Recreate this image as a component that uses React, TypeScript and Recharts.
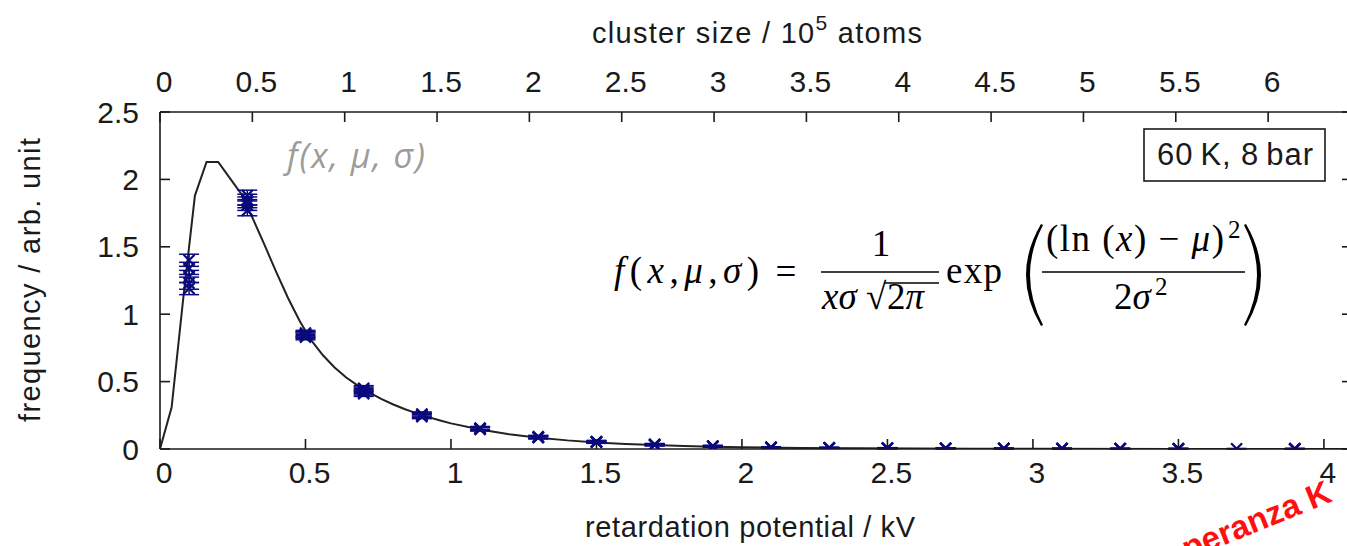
import React from 'react';
import { ComposedChart, Line, Scatter, ErrorBar, XAxis, YAxis } from 'recharts';

// retardation potential (kV) of each measured point
const potentials = [0.1, 0.3, 0.5, 0.7, 0.9, 1.1, 1.3, 1.5, 1.7, 1.9, 2.1, 2.3, 2.5, 2.7, 2.9, 3.1, 3.3, 3.5, 3.7, 3.9];

// repeated measurements (frequency / arb. unit), null = no point
const run1 = [1.4, 1.88, 0.86, 0.45, 0.26, 0.155, 0.09, 0.056, 0.035, 0.022, 0.013, 0.009, 0.007, 0.005, 0.004, 0.003, 0.003, 0.002, 0.002, 0.002];
const run2 = [1.28, 1.85, 0.85, 0.43, 0.25, 0.15, 0.086, 0.052, 0.032, 0.02, 0.011, 0.008, 0.006, 0.005, 0.004, 0.003, 0.002, 0.002, null, 0.001];
const run3 = [1.23, 1.81, 0.84, 0.41, 0.24, 0.145, 0.085, 0.05, 0.03, 0.018, 0.01, 0.008, 0.006, 0.004, 0.003, 0.003, 0.002, 0.002, null, 0.001];
const run4 = [1.19, 1.77, 0.83, 0.42, 0.25, 0.15, 0.09, 0.052, 0.03, 0.02, 0.012, 0.008, 0.006, 0.004, 0.003, 0.002, 0.002, 0.001, null, 0.001];
const run5 = [1.34, 1.83, 0.85, 0.44, null, null, null, null, null, null, null, null, null, null, null, null, null, null, null, null];
const errorSize = [0.045, 0.04, 0.02, 0.02, 0.015, 0.012, 0.01, 0.008, 0.006, 0.005, 0.004, 0.003, 0.003, 0.002, 0.002, 0.002, 0.002, 0.002, 0.002, 0.002];

// log-normal fit curve
const fitPotential = [0, 0.04, 0.08, 0.12, 0.16, 0.2, 0.24, 0.28, 0.32, 0.36, 0.4, 0.44, 0.48, 0.52, 0.56, 0.6, 0.64, 0.68, 0.72, 0.76, 0.8, 0.84, 0.88, 0.92, 0.96, 1.0, 1.1, 1.2, 1.3, 1.4, 1.5, 1.6, 1.7, 1.8, 1.9, 2.0, 2.2, 2.4, 2.6, 2.8, 3.0, 3.5, 4.0, 4.1];
const fitFrequency = [0, 0.31, 1.12, 1.88, 2.13, 2.13, 2.01, 1.89, 1.705, 1.51, 1.31, 1.12, 0.95, 0.805, 0.695, 0.605, 0.53, 0.47, 0.418, 0.372, 0.332, 0.297, 0.266, 0.238, 0.213, 0.19, 0.145, 0.11, 0.084, 0.064, 0.049, 0.038, 0.029, 0.022, 0.017, 0.013, 0.008, 0.005, 0.003, 0.002, 0.0015, 0.0006, 0.0003, 0.0002];

const kvTicks = [0, 0.5, 1, 1.5, 2, 2.5, 3, 3.5, 4];
const clusterTicks = [0, 0.5, 1, 1.5, 2, 2.5, 3, 3.5, 4, 4.5, 5, 5.5, 6];
const freqTicks = [0, 0.5, 1, 1.5, 2, 2.5];

// top axis: cluster size (10^5 atoms) per kV of retardation potential
const CLUSTER_PER_KV = 1.5755;

const NAVY = '#0a0a7d';
const INK = '#1a1a1a';
const SANS = '"Liberation Sans", Arial, Helvetica, sans-serif';
const SERIF = '"Liberation Serif", "Times New Roman", serif';

const runs = [run1, run2, run3, run4, run5];

const toPoints = (values: (number | null)[]) =>
  potentials
    .map((x, i) => ({ x, y: values[i], err: errorSize[i] }))
    .filter((p) => p.y !== null);

const fitData = fitPotential.map((x, i) => ({ x, y: fitFrequency[i] }));

const Cross = (props: any) => {
  const { cx, cy } = props;
  if (cx == null || cy == null) return null;
  const s = 5.5;
  return (
    <path
      d={`M${cx - s},${cy - s}L${cx + s},${cy + s}M${cx - s},${cy + s}L${cx + s},${cy - s}`}
      stroke={NAVY}
      strokeWidth={2.2}
      fill="none"
    />
  );
};

const NoLabel = () => <g />;

const tickText = { fontSize: 30, fill: INK, fontFamily: SANS };
const axisStyle = { stroke: INK, strokeWidth: 1.6 };

function Annotations() {
  return (
    <svg
      width={1347}
      height={546}
      style={{ position: 'absolute', left: 0, top: 0, pointerEvents: 'none' }}
    >
      {/* axis titles */}
      <text x={757} y={43} textAnchor="middle" fontFamily={SANS} fontSize={29} fill={INK} textLength={330}>
        cluster size / 10
        <tspan dy={-13} fontSize={21}>5</tspan>
        <tspan dy={13}> atoms</tspan>
      </text>
      <text x={750} y={537} textAnchor="middle" fontFamily={SANS} fontSize={29} fill={INK} textLength={330}>
        retardation potential / kV
      </text>
      <text
        transform="translate(40,280) rotate(-90)"
        textAnchor="middle"
        fontFamily={SANS}
        fontSize={29}
        fill={INK}
        textLength={284}
      >
        frequency / arb. unit
      </text>

      {/* grey curve label */}
      <text x={287} y={168} fontFamily='"Open Sans", sans-serif' fontStyle="italic" fontSize={34} fill="#9c9c9c" textLength={138}>
        f(x, μ, σ)
      </text>

      {/* condition box */}
      <rect x={1144} y={129} width={181} height={52} fill="#fff" stroke={INK} strokeWidth={1.6} />
      <text x={1235} y={165} textAnchor="middle" fontFamily={SANS} fontSize={31} fill={INK} textLength={156}>
        60{'\u2009'}K, 8{'\u2009'}bar
      </text>

      {/* formula */}
      <g fontFamily={SERIF} fill="#000">
        <text x={614} y={283} fontSize={37} textLength={145}>
          <tspan fontStyle="italic">f</tspan>(<tspan fontStyle="italic">x</tspan>,<tspan fontStyle="italic">μ</tspan>,<tspan fontStyle="italic">σ</tspan>)
        </text>
        <text x={786} y={284} fontSize={37} textAnchor="middle">=</text>
        <text x={881} y={256} fontSize={37} textAnchor="middle">1</text>
        <line x1={821} x2={939} y1={272} y2={272} stroke="#000" strokeWidth={1.5} />
        <text x={822} y={309} fontSize={37}>
          <tspan fontStyle="italic">xσ</tspan>
        </text>
        <text x={866} y={309} fontSize={37}>√</text>
        <line x1={885} x2={939} y1={283} y2={283} stroke="#000" strokeWidth={1.5} />
        <text x={887} y={309} fontSize={37}>
          2<tspan fontStyle="italic">π</tspan>
        </text>
        <text x={946} y={283} fontSize={37} textLength={56}>exp</text>
        <path d="M1041,224 Q1011,275 1041,326 L1043,325 Q1017,275 1043,225 Z" fill="#000" />
        <text x={1046} y={251} fontSize={37} textLength={178}>
          (ln (<tspan fontStyle="italic">x</tspan>) − <tspan fontStyle="italic">μ</tspan>)
        </text>
        <text x={1228} y={238} fontSize={25}>2</text>
        <line x1={1042} x2={1245} y1={272} y2={272} stroke="#000" strokeWidth={1.5} />
        <text x={1114} y={309} fontSize={37}>
          2<tspan fontStyle="italic">σ</tspan>
        </text>
        <text x={1155} y={295} fontSize={25}>2</text>
        <path d="M1246,224 Q1276,275 1246,326 L1244,325 Q1270,275 1244,225 Z" fill="#000" />
      </g>

      {/* watermark */}
      <text
        transform="translate(1150,575) rotate(-22)"
        fontFamily={SANS}
        fontWeight="bold"
        fontSize={33}
        fill="#ff1010"
      >
        Esperanza K
      </text>
    </svg>
  );
}

export default function App() {
  return (
    <div
      style={{
        position: 'absolute',
        left: 0,
        top: 0,
        width: 1347,
        height: 546,
        overflow: 'hidden',
        background: '#fff',
      }}
    >
      <ComposedChart width={1400} height={546} margin={{ top: 52, right: 27, bottom: 37, left: 60 }}>
        <XAxis
          xAxisId="kv"
          dataKey="x"
          type="number"
          orientation="bottom"
          domain={[0, 4.1]}
          allowDataOverflow
          ticks={kvTicks}
          interval={0}
          height={60}
          tickSize={-10}
          tickMargin={23}
          axisLine={axisStyle}
          tickLine={axisStyle}
          tick={{ ...tickText, dx: 4 }}
        />
        <XAxis
          xAxisId="top"
          dataKey="x"
          type="number"
          orientation="top"
          domain={[0, 4.1]}
          allowDataOverflow
          ticks={clusterTicks.map((c) => c / CLUSTER_PER_KV)}
          tickFormatter={(v: number) => String(Math.round(v * CLUSTER_PER_KV * 10) / 10)}
          interval={0}
          height={60}
          tickSize={-10}
          tickMargin={30}
          axisLine={axisStyle}
          tickLine={axisStyle}
          tick={{ ...tickText, dx: 4 }}
        />
        <YAxis
          yAxisId="f"
          dataKey="y"
          type="number"
          domain={[0, 2.5]}
          allowDataOverflow
          ticks={freqTicks}
          interval={0}
          width={100}
          tickSize={-10}
          tickMargin={31}
          axisLine={axisStyle}
          tickLine={axisStyle}
          tick={tickText}
        />
        <YAxis
          yAxisId="right"
          dataKey="y"
          orientation="right"
          type="number"
          domain={[0, 2.5]}
          allowDataOverflow
          ticks={freqTicks}
          interval={0}
          width={20}
          tickSize={-11}
          axisLine={axisStyle}
          tickLine={axisStyle}
          tick={NoLabel}
        />
        {/* invisible copy of the fit so the top / right frame axes get drawn */}
        <Line
          xAxisId="top"
          yAxisId="right"
          data={fitData}
          dataKey="y"
          stroke="none"
          dot={false}
          activeDot={false}
          legendType="none"
          isAnimationActive={false}
        />
        <Line
          xAxisId="kv"
          yAxisId="f"
          data={fitData}
          dataKey="y"
          type="linear"
          stroke="#222"
          strokeWidth={2}
          dot={false}
          activeDot={false}
          isAnimationActive={false}
        />
        {runs.map((run, i) => (
          <Scatter
            key={i}
            xAxisId="kv"
            yAxisId="f"
            data={toPoints(run)}
            dataKey="y"
            shape={Cross}
            isAnimationActive={false}
          >
            <ErrorBar dataKey="err" direction="y" width={10} stroke={NAVY} strokeWidth={1.5} />
          </Scatter>
        ))}
      </ComposedChart>
      <Annotations />
    </div>
  );
}
